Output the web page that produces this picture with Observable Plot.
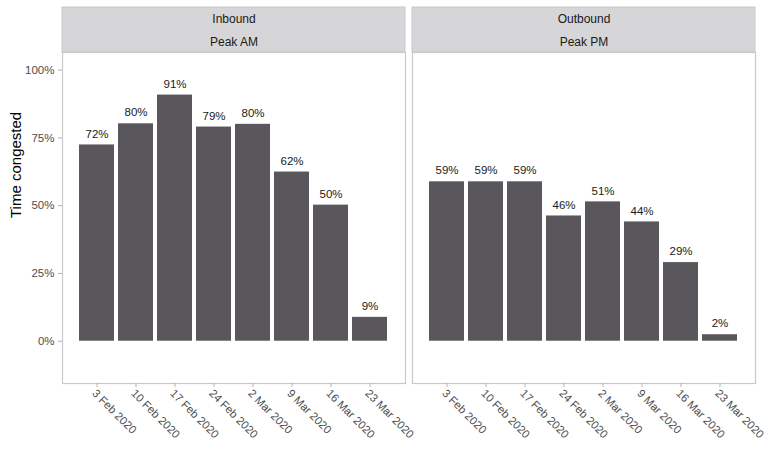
<!DOCTYPE html>
<html>
<head>
<meta charset="utf-8">
<script src="https://cdn.jsdelivr.net/npm/d3@7"></script>
<script src="https://cdn.jsdelivr.net/npm/@observablehq/plot@0.6"></script>
<style>
  html, body { margin: 0; padding: 0; background: #fff; }
  svg text { font-family: "Liberation Sans", Arial, sans-serif; }
</style>
</head>
<body>
<div id="chart"></div>
<script>
const weeks = ["3 Feb 2020", "10 Feb 2020", "17 Feb 2020", "24 Feb 2020", "2 Mar 2020", "9 Mar 2020", "16 Mar 2020", "23 Mar 2020"];
const directions = ["Inbound", "Outbound"];
const peaks = ["Peak AM", "Peak PM"];
const inboundValues = [0.724, 0.802, 0.908, 0.79, 0.80, 0.624, 0.502, 0.088];
const outboundValues = [0.588, 0.588, 0.588, 0.462, 0.514, 0.44, 0.29, 0.024];
const yTicks = [0, 0.25, 0.5, 0.75, 1];
const yLabel = "Time congested";

const data = [
  ...weeks.map((w, i) => ({direction: directions[0], week: w, value: inboundValues[i]})),
  ...weeks.map((w, i) => ({direction: directions[1], week: w, value: outboundValues[i]}))
];
const strips = directions.map((d, i) => ({direction: d, peak: peaks[i]}));

const width = 768, height = 451;
const marginTop = 52, marginBottom = 68, marginLeft = 62, marginRight = 13;
const panelH = height - marginTop - marginBottom;
const stripH = 45;

const chart = Plot.plot({
  width, height, marginTop, marginBottom, marginLeft, marginRight,
  style: {fontFamily: "Liberation Sans, Arial, sans-serif", fontSize: "11px", background: "#fff"},
  fx: {domain: directions, paddingInner: 0.02, paddingOuter: 0, axis: null, label: null},
  x: {type: "band", domain: weeks, paddingInner: 0.1, paddingOuter: 0.37, label: null},
  y: {domain: [-0.156, 1.065], label: null},
  marks: [
    Plot.rect(strips, {fx: "direction", fill: "#d6d5d8", stroke: "#c9c8cc", insetTop: -stripH, insetBottom: panelH}),
    Plot.frame({stroke: "#c9c8cc", strokeWidth: 1.2}),
    Plot.text(strips, {fx: "direction", text: "direction", frameAnchor: "top", lineAnchor: "middle", dy: -33, fontSize: 12, fill: "#1a1a1a"}),
    Plot.text(strips, {fx: "direction", text: "peak", frameAnchor: "top", lineAnchor: "middle", dy: -10.5, fontSize: 12, fill: "#1a1a1a"}),
    Plot.axisY({ticks: yTicks, tickFormat: d3.format(".0%"), tickSize: 4, tickPadding: 4, stroke: "#b3b3b3", fill: "#4d4d4d", fontSize: 11.5, label: null}),
    Plot.axisX({tickSize: 4, tickFormat: () => "", stroke: "#b3b3b3", label: null}),
    Plot.axisX({tickRotate: 45, tickSize: 0, tickPadding: 8, dx: -3, fill: "#4d4d4d", fontSize: 11.3, label: null}),
    Plot.text([{direction: directions[0], t: yLabel}], {fx: "direction", text: "t", frameAnchor: "left", rotate: -90, dx: -46, fontSize: 15, fill: "#000"}),
    Plot.barY(data, {fx: "direction", x: "week", y: "value", fill: "#59575b"}),
    Plot.text(data, {fx: "direction", x: "week", y: "value", text: d => Math.round(d.value * 100) + "%", dy: -11, fontSize: 11.5, fill: "#1a1a1a"})
  ]
});
document.getElementById("chart").appendChild(chart);
</script>
</body>
</html>
